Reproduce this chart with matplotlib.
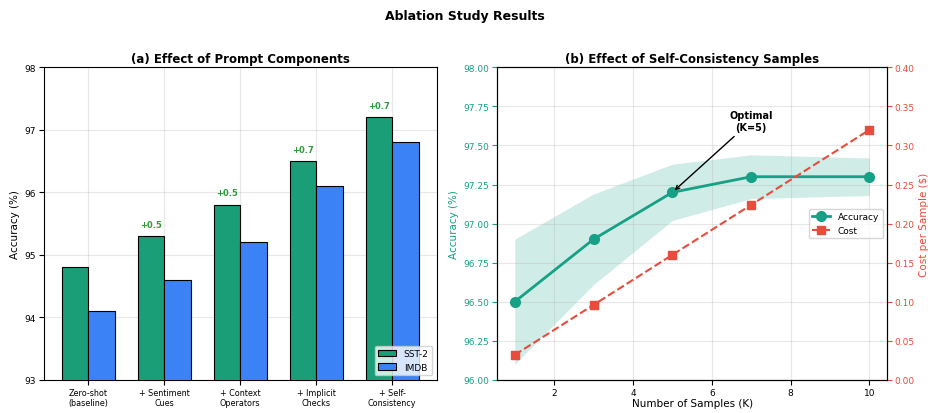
import matplotlib
matplotlib.use("Agg")
import matplotlib.pyplot as plt
import numpy as np

components = ['Zero-shot\n(baseline)', '+ Sentiment\nCues', '+ Context\nOperators',
              '+ Implicit\nChecks', '+ Self-\nConsistency']
sst2 = [94.8, 95.3, 95.8, 96.5, 97.2]
imdb = [94.1, 94.6, 95.2, 96.1, 96.8]
gains = ['+0.5', '+0.5', '+0.7', '+0.7']

samples = [1, 3, 5, 7, 10]
acc = [96.5, 96.9, 97.2, 97.3, 97.3]
acc_std = [0.4, 0.29, 0.18, 0.14, 0.12]
cost = [0.032, 0.096, 0.16, 0.224, 0.32]

green = '#1a9e77'
blue = '#3b82f6'
teal = '#16a085'
red = '#e74c3c'

plt.rcParams['font.size'] = 6.5
plt.rcParams['xtick.major.pad'] = 2
plt.rcParams['ytick.major.pad'] = 2

fig = plt.figure(figsize=(9.29, 4.14), dpi=100)
fig.suptitle('Ablation Study Results', fontsize=9, fontweight='bold', y=0.975)

ax1 = fig.add_axes([0.047, 0.08, 0.423, 0.755])
x = np.arange(len(components))
w = 0.35
ax1.bar(x - w/2, sst2, w, color=green, edgecolor='black', linewidth=0.8, label='SST-2', zorder=3)
ax1.bar(x + w/2, imdb, w, color=blue, edgecolor='black', linewidth=0.8, label='IMDB', zorder=3)
for i, g in enumerate(gains):
    ax1.text(x[i+1] - w/2, sst2[i+1] + 0.12, g, ha='center', va='bottom',
             fontsize=6, fontweight='bold', color='#2e9a3a')
ax1.set_ylim(93, 98)
ax1.set_yticks([93, 94, 95, 96, 97, 98])
ax1.set_xticks(x)
ax1.set_xticklabels(components, fontsize=5.8)
ax1.set_ylabel('Accuracy (%)', fontsize=7.5, labelpad=3)
ax1.set_title('(a) Effect of Prompt Components', fontsize=8.5, fontweight='bold', pad=4)
ax1.grid(True, alpha=0.3, zorder=0)
ax1.legend(loc='lower right', fontsize=6.5)

ax2 = fig.add_axes([0.535, 0.08, 0.42, 0.755])
ax2.fill_between(samples, np.array(acc) - np.array(acc_std), np.array(acc) + np.array(acc_std),
                 color=teal, alpha=0.2, linewidth=0)
l1, = ax2.plot(samples, acc, '-o', color=teal, linewidth=2, markersize=7, label='Accuracy')
ax2.set_ylim(96.0, 98.0)
ax2.set_yticks(np.arange(96.0, 98.01, 0.25))
ax2.yaxis.set_major_formatter(matplotlib.ticker.FormatStrFormatter('%.2f'))
ax2.set_xlabel('Number of Samples (K)', fontsize=7.5, labelpad=1)
ax2.set_ylabel('Accuracy (%)', fontsize=7.5, color=teal, labelpad=3)
ax2.tick_params(axis='y', colors=teal)
ax2.set_title('(b) Effect of Self-Consistency Samples', fontsize=8.5, fontweight='bold', pad=4)
ax2.grid(True, alpha=0.3)
ax2.annotate('Optimal\n(K=5)', xy=(5, acc[2]), xytext=(7.0, 97.6), ha='center',
             fontsize=7, fontweight='bold',
             arrowprops=dict(arrowstyle='->', color='black', lw=1))

ax3 = ax2.twinx()
l2, = ax3.plot(samples, cost, '--s', color=red, linewidth=1.5, markersize=6, label='Cost')
ax3.set_ylim(0, 0.4)
ax3.set_yticks(np.arange(0, 0.401, 0.05))
ax3.yaxis.set_major_formatter(matplotlib.ticker.FormatStrFormatter('%.2f'))
ax3.set_ylabel('Cost per Sample ($)', fontsize=7.5, color=red, labelpad=3)
ax3.tick_params(axis='y', colors=red)
ax2.legend([l1, l2], ['Accuracy', 'Cost'], loc='center right', fontsize=6.5)

fig.savefig('out.png', dpi=100)
